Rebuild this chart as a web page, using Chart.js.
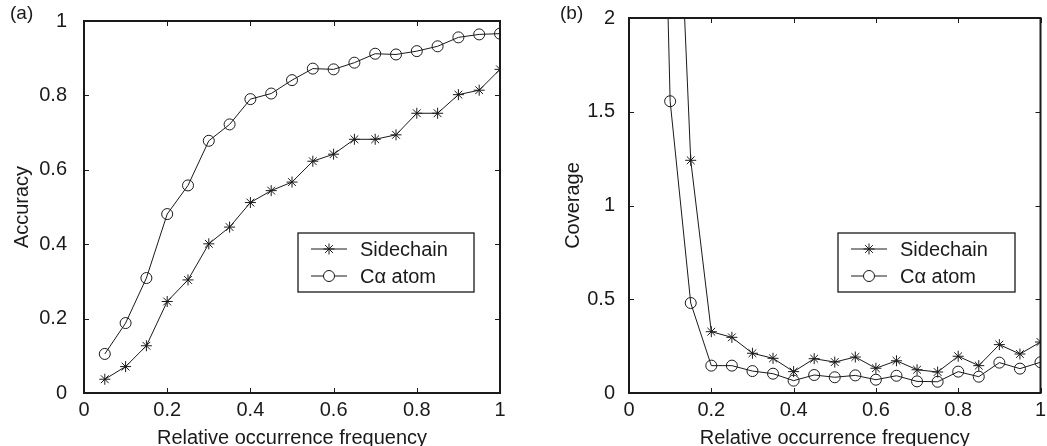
<!DOCTYPE html>
<html>
<head>
<meta charset="utf-8">
<script src="https://cdn.jsdelivr.net/npm/chart.js@4"></script>
<style>
  html, body { margin: 0; padding: 0; background: #fff; }
  #wrap { position: relative; width: 1047px; height: 446px; overflow: hidden; }
  .panel { position: absolute; top: 0; height: 446px; }
  #pa { left: 0; width: 523px; }
  #pb { left: 523px; width: 524px; }
  .tag { position: absolute; top: 2px; font: 19px "Liberation Sans", Arial, sans-serif; color: #1a1a1a; }
</style>
</head>
<body>
<div id="wrap">
  <div class="panel" id="pa"><canvas id="chartA"></canvas></div>
  <div class="panel" id="pb"><canvas id="chartB"></canvas></div>
  <div class="tag" style="left:10px">(a)</div>
  <div class="tag" style="left:560px">(b)</div>
</div>
<script>
// --- data ---
const freq = [0.05, 0.10, 0.15, 0.20, 0.25, 0.30, 0.35, 0.40, 0.45, 0.50,
              0.55, 0.60, 0.65, 0.70, 0.75, 0.80, 0.85, 0.90, 0.95, 1.00];

// (a) accuracy
const accSidechain = [0.037, 0.071, 0.127, 0.246, 0.304, 0.401, 0.446, 0.512, 0.544, 0.567,
                      0.623, 0.642, 0.682, 0.682, 0.694, 0.752, 0.752, 0.802, 0.814, 0.870];
const accCalpha    = [0.105, 0.188, 0.309, 0.481, 0.558, 0.678, 0.722, 0.790, 0.805, 0.841,
                      0.872, 0.870, 0.888, 0.912, 0.910, 0.919, 0.932, 0.956, 0.964, 0.966];

// (b) coverage (first points run off the top of the axes)
const covSidechain = [8.0, 3.8, 1.241, 0.327, 0.297, 0.212, 0.185, 0.114, 0.183, 0.165,
                      0.192, 0.132, 0.172, 0.124, 0.112, 0.196, 0.146, 0.258, 0.208, 0.272];
const covCalpha    = [6.0, 1.556, 0.480, 0.146, 0.146, 0.117, 0.103, 0.066, 0.096, 0.084,
                      0.094, 0.071, 0.092, 0.062, 0.060, 0.114, 0.087, 0.162, 0.130, 0.164];

const seriesNames = ['Sidechain', 'C\u03b1 atom'];
const xTitle = 'Relative occurrence frequency';

const FONT = '"Liberation Sans", Arial, Helvetica, sans-serif';
const INK = '#1a1a1a';

function pts(vals) {
  return freq.map((f, i) => ({ x: f, y: vals[i] }));
}

// matlab-ish tick text: 1 not 1.0
const tickFmt = v => String(+Number(v).toFixed(2));

// box around the axes, inward ticks and the legend
const framePlugin = {
  id: 'frame',
  afterDraw(chart, args, opts) {
    const ctx = chart.ctx;
    const a = chart.chartArea;
    const xs = chart.scales.x, ys = chart.scales.y;
    ctx.save();
    ctx.strokeStyle = INK;
    ctx.lineWidth = 1;
    const tl = 5;
    xs.ticks.forEach(t => {
      const px = Math.round(xs.getPixelForValue(t.value)) + 0.5;
      ctx.beginPath();
      ctx.moveTo(px, a.bottom); ctx.lineTo(px, a.bottom - tl);
      ctx.moveTo(px, a.top); ctx.lineTo(px, a.top + tl);
      ctx.stroke();
    });
    ys.ticks.forEach(t => {
      const py = Math.round(ys.getPixelForValue(t.value)) + 0.5;
      ctx.beginPath();
      ctx.moveTo(a.left, py); ctx.lineTo(a.left + tl, py);
      ctx.moveTo(a.right, py); ctx.lineTo(a.right - tl, py);
      ctx.stroke();
    });
    ctx.lineWidth = 2;
    ctx.strokeRect(a.left, a.top, a.right - a.left, a.bottom - a.top);

    // legend
    const lg = opts.legend;
    ctx.lineWidth = 1.3;
    ctx.fillStyle = '#fff';
    ctx.fillRect(lg.x, lg.y, lg.w, lg.h);
    ctx.strokeRect(lg.x, lg.y, lg.w, lg.h);
    ctx.font = '20px ' + FONT;
    ctx.textBaseline = 'middle';
    chart.data.datasets.forEach((ds, i) => {
      const cy = lg.y + 16 + i * 27;
      const x0 = lg.x + 13, x1 = x0 + 36;
      ctx.strokeStyle = ds.borderColor;
      ctx.lineWidth = 1;
      ctx.beginPath();
      ctx.moveTo(x0, cy); ctx.lineTo(x1, cy);
      ctx.stroke();
      ctx.fillStyle = '#fff';
      Chart.helpers.drawPoint(ctx, {
        pointStyle: ds.pointStyle, radius: ds.pointRadius, borderWidth: 1
      }, (x0 + x1) / 2, cy);
      ctx.fillStyle = INK;
      ctx.fillText(ds.label, x1 + 13, cy + 1);
    });
    ctx.restore();
  }
};

function makeChart(id, sets, opt) {
  return new Chart(document.getElementById(id), {
    type: 'line',
    data: {
      datasets: [{
        label: seriesNames[0],
        data: pts(sets[0]),
        borderColor: INK,
        borderWidth: 1,
        pointStyle: 'star',
        pointRadius: 5.5,
        pointBorderColor: INK,
        pointBorderWidth: 1,
        pointBackgroundColor: 'transparent',
        clip: 0
      }, {
        label: seriesNames[1],
        data: pts(sets[1]),
        borderColor: INK,
        borderWidth: 1,
        pointStyle: 'circle',
        pointRadius: 5.5,
        pointBorderColor: INK,
        pointBorderWidth: 1,
        pointBackgroundColor: 'transparent',
        clip: 0
      }]
    },
    options: {
      responsive: false,
      animation: false,
      layout: { padding: { top: 18, right: opt.padRight, left: opt.padLeft, bottom: 0 } },
      plugins: {
        legend: { display: false },
        tooltip: { enabled: false },
        frame: { legend: opt.legend }
      },
      scales: {
        x: {
          type: 'linear',
          min: 0, max: 1,
          ticks: { stepSize: 0.2, color: INK, font: { family: FONT, size: 20 }, padding: -3, maxRotation: 0, callback: tickFmt },
          grid: { display: false },
          border: { display: false },
          title: { display: true, text: xTitle, color: INK, font: { family: FONT, size: 20 }, padding: { top: 4, bottom: -4 } },
          afterFit(s) { s.height = 53; s.paddingLeft = 0; s.paddingRight = 0; }
        },
        y: {
          min: opt.yMin, max: opt.yMax,
          ticks: { stepSize: opt.yStep, color: INK, font: { family: FONT, size: 20 }, padding: opt.yPad, callback: tickFmt },
          grid: { display: false },
          border: { display: false },
          title: { display: true, text: opt.yTitle, color: INK, font: { family: FONT, size: 20 }, padding: { top: 10, bottom: 0 } },
          afterFit(s) { s.width = opt.yWidth; }
        }
      }
    },
    plugins: [framePlugin]
  });
}

function sizeCanvas(id, w) {
  const c = document.getElementById(id);
  c.width = w; c.height = 446;
  c.style.width = w + 'px'; c.style.height = '446px';
}
sizeCanvas('chartA', 523);
sizeCanvas('chartB', 524);

makeChart('chartA', [accSidechain, accCalpha], {
  yTitle: 'Accuracy', yMin: 0, yMax: 1, yStep: 0.2, yPad: 9, yWidth: 84, padLeft: 0, padRight: 23,
  legend: { x: 298, y: 233, w: 176, h: 59 }
});
makeChart('chartB', [covSidechain, covCalpha], {
  yTitle: 'Coverage', yMin: 0, yMax: 2, yStep: 0.5, yPad: 6, yWidth: 78, padLeft: 28, padRight: 3,
  legend: { x: 315, y: 233, w: 177, h: 59 }
});
</script>
</body>
</html>
